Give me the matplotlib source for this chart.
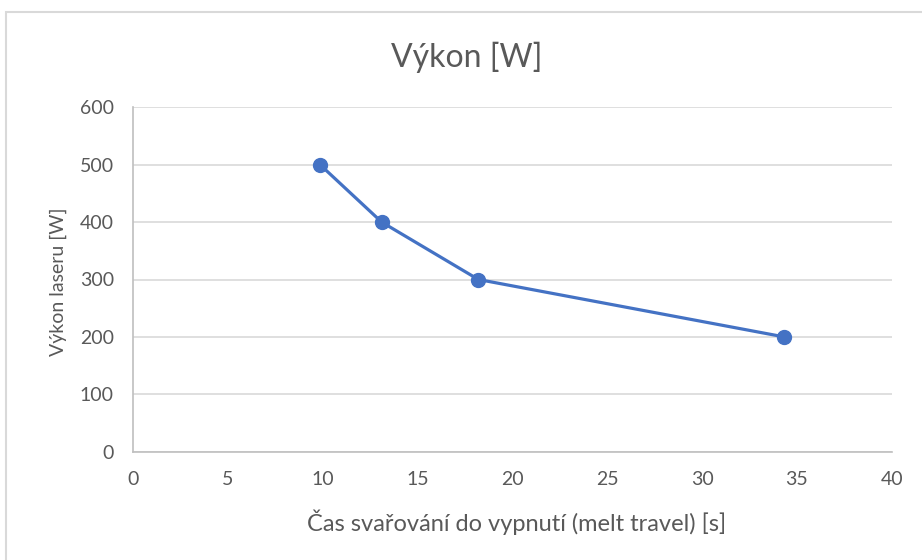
import matplotlib
matplotlib.use("Agg")
import matplotlib.pyplot as plt
from matplotlib.patches import Rectangle

# Data
time_s = [9.85, 13.1, 18.2, 34.33]
power_w = [500, 400, 300, 200]
title = "Výkon [W]"
xlabel = "Čas svařování do vypnutí (melt travel) [s]"
ylabel = "Výkon laseru [W]"
xticks = [0, 5, 10, 15, 20, 25, 30, 35, 40]
yticks = [0, 100, 200, 300, 400, 500, 600]

plt.rcParams['font.family'] = ['Lato', 'DejaVu Sans']

W, H = 922, 560
fig = plt.figure(figsize=(W / 100, H / 100), dpi=100)
fig.patch.set_facecolor('white')

# chart area border
fig.patches.append(Rectangle((6 / W, -0.1), 2.0, 1 - 12 / H + 0.1,
                             transform=fig.transFigure, fill=False,
                             edgecolor='#D9D9D9', linewidth=1.5))

ax = fig.add_axes([133.3 / W, 1 - 451.7 / H, (891.7 - 133.3) / W, (451.7 - 107.3) / H])
ax.set_xlim(0, 40)
ax.set_ylim(0, 600)
ax.set_xticks(xticks)
ax.set_yticks(yticks)
ax.grid(axis='y', color='#D9D9D9', linewidth=1.2)
ax.set_axisbelow(True)
for s in ['top', 'right']:
    ax.spines[s].set_visible(False)
for s in ['left', 'bottom']:
    ax.spines[s].set_color('#BFBFBF')
    ax.spines[s].set_linewidth(1.2)
ax.tick_params(length=0, labelsize=14, labelcolor='#595959')
ax.tick_params(axis='y', pad=14)
ax.tick_params(axis='x', pad=14)

ax.plot(time_s, power_w, color='#4472C4', linewidth=2.3, marker='o',
        markersize=10, markerfacecolor='#4472C4', markeredgecolor='#4472C4',
        clip_on=False, zorder=3)

fig.text(517 / W, 1 - 522 / H, xlabel, ha='center', va='center',
         fontsize=17, color='#595959')
fig.text(58.5 / W, 1 - 281.5 / H, ylabel, ha='center', va='center',
         rotation=90, fontsize=14, color='#595959')

fig.text(467 / W, 1 - 57 / H, title, ha='center', va='center',
         fontsize=23, color='#595959')

fig.savefig('out.png', dpi=100)
